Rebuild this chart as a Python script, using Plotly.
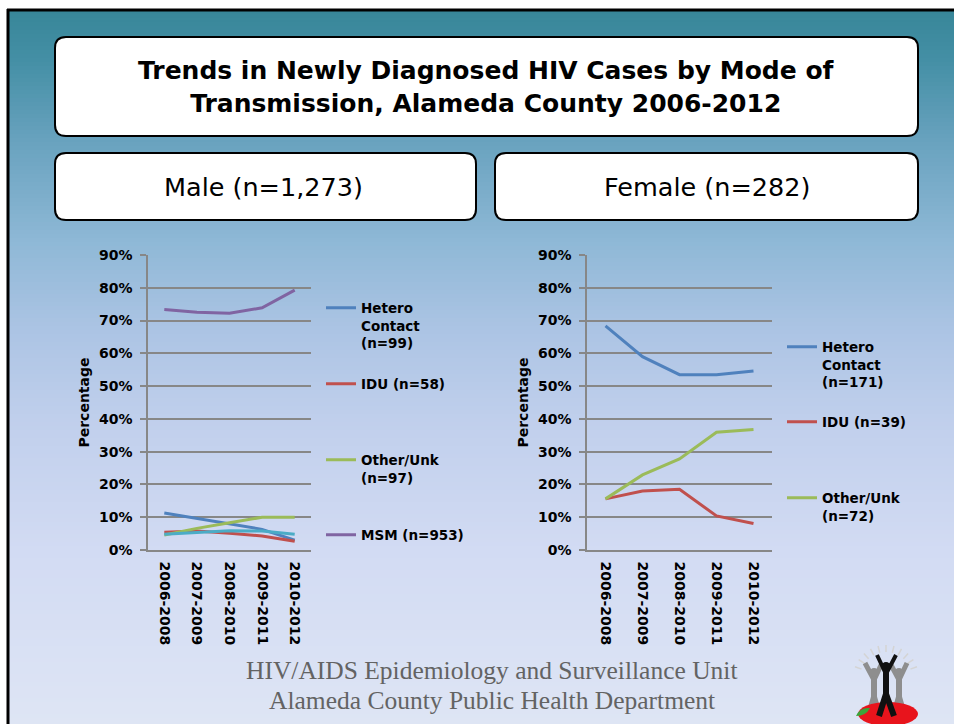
import numpy as np
import plotly.graph_objects as go

W, H = 954, 724

# ---- data -------------------------------------------------------------
periods = ["2006-2008", "2007-2009", "2008-2010", "2009-2011", "2010-2012"]

male_hetero = [11.3, 9.6, 7.8, 6.3, 3.0]
male_idu = [5.4, 5.8, 5.1, 4.3, 2.7]
male_other = [4.6, 6.6, 8.3, 10.0, 10.0]
male_msm = [73.4, 72.5, 72.2, 73.9, 79.3]
male_series5 = [4.8, 5.4, 5.9, 5.8, 4.8]

female_hetero = [68.4, 59.0, 53.5, 53.5, 54.6]
female_idu = [15.6, 18.0, 18.5, 10.4, 8.1]
female_other = [15.6, 22.9, 27.8, 35.9, 36.8]

male_labels = ["Hetero<br>Contact<br>(n=99)", "IDU (n=58)", "Other/Unk<br>(n=97)", "MSM (n=953)"]
female_labels = ["Hetero<br>Contact<br>(n=171)", "IDU (n=39)", "Other/Unk<br>(n=72)"]

y_tick_vals = [0, 10, 20, 30, 40, 50, 60, 70, 80, 90]
y_tick_text = [f"{v}%" for v in y_tick_vals]

title_text = "Trends in Newly Diagnosed HIV Cases by Mode of<br>Transmission, Alameda County 2006-2012"
male_header = "Male (n=1,273)"
female_header = "Female (n=282)"
footer_lines = ["HIV/AIDS Epidemiology and Surveillance Unit",
                "Alameda County Public Health Department"]

# ---- styling ------------------------------------------------------------
BLUE, RED, GREEN, PURPLE, CYAN = "#4F81BD", "#C0504D", "#9BBB59", "#8064A2", "#4BACC6"
GRID = "#878787"
SANS = "DejaVu Sans"


def px(x):
    return x / W


def py(y):
    return 1 - y / H


fig = go.Figure()

male_series = [(male_hetero, BLUE), (male_idu, RED), (male_other, GREEN), (male_msm, PURPLE)]
female_series = [(female_hetero, BLUE), (female_idu, RED), (female_other, GREEN)]

legend_ids = []
for i, ((vals, col), lab) in enumerate(zip(male_series, male_labels)):
    lid = "legend" if i == 0 else f"legend{i + 1}"
    legend_ids.append(lid)
    fig.add_trace(go.Scatter(x=periods, y=vals, mode="lines", name=lab,
                             line=dict(color=col, width=3),
                             xaxis="x", yaxis="y", legend=lid))
fig.add_trace(go.Scatter(x=periods, y=male_series5, mode="lines", name="Series 5",
                         line=dict(color=CYAN, width=3), showlegend=False,
                         xaxis="x", yaxis="y"))
for i, ((vals, col), lab) in enumerate(zip(female_series, female_labels)):
    lid = f"legend{i + 5}"
    legend_ids.append(lid)
    fig.add_trace(go.Scatter(x=periods, y=vals, mode="lines", name=lab,
                             line=dict(color=col, width=3),
                             xaxis="x2", yaxis="y2", legend=lid))

# ---- axes -------------------------------------------------------------
tick_font = dict(family=SANS, size=14, color="#000", weight="bold")
y_dom = [py(550), py(255)]


def xaxis(dom, anchor):
    return dict(domain=dom, anchor=anchor, range=[-0.5, 4.5], type="category",
                tickangle=90, tickfont=tick_font, showline=True, linecolor=GRID,
                linewidth=1.5, showgrid=False, ticks="", ticklabelstandoff=7,
                fixedrange=True)


def yaxis(anchor):
    return dict(domain=y_dom, anchor=anchor, range=[0, 90], tickvals=y_tick_vals,
                ticktext=y_tick_text, tickfont=tick_font, showgrid=True,
                gridcolor=GRID, gridwidth=1.5, showline=True, linecolor=GRID,
                linewidth=1.5, ticks="outside", ticklen=6, tickcolor=GRID,
                tickwidth=1.5, ticklabelstandoff=5, zeroline=False,
                title=dict(text="Percentage", font=tick_font, standoff=6),
                fixedrange=True)


# ---- legends (one per series so each entry sits at its own slot) ------
legend_font = dict(family=SANS, size=13.5, color="#000", weight="bold")
male_legend_y = [292.5, 368.5, 444.5, 519.5]
female_legend_y = [331.5, 406.5, 482.5]
legend_layout = {}
for lid, ytop in zip(legend_ids[:4], male_legend_y):
    legend_layout[lid] = dict(x=px(321), y=py(ytop), xanchor="left", yanchor="top",
                              bgcolor="rgba(0,0,0,0)", font=legend_font, valign="top",
                              itemwidth=30)
for lid, ytop in zip(legend_ids[4:], female_legend_y):
    legend_layout[lid] = dict(x=px(782), y=py(ytop), xanchor="left", yanchor="top",
                              bgcolor="rgba(0,0,0,0)", font=legend_font, valign="top",
                              itemwidth=30)

# ---- background, frame and boxes ----------------------------------------
shapes = []
stops_y = [10, 60, 140, 240, 330, 420, 550, 724]
stops_rgb = np.array([(56, 134, 153), (68, 143, 165), (104, 162, 190), (142, 184, 214),
                      (172, 196, 228), (192, 207, 236), (210, 219, 243), (222, 229, 244)], float)
step = 4
for y0 in range(10, H, step):
    yc = y0 + step / 2
    rgb = [int(round(np.interp(yc, stops_y, stops_rgb[:, k]))) for k in range(3)]
    shapes.append(dict(type="rect", xref="paper", yref="paper", layer="below",
                       x0=px(9), x1=1, y0=py(min(y0 + step + 0.5, H)), y1=py(y0),
                       fillcolor=f"rgb({rgb[0]},{rgb[1]},{rgb[2]})", line=dict(width=0)))
# dark frame along the top and left
shapes.append(dict(type="line", xref="paper", yref="paper", layer="below",
                   x0=px(7), x1=1, y0=py(10), y1=py(10), line=dict(color="#000", width=3)))
shapes.append(dict(type="line", xref="paper", yref="paper", layer="below",
                   x0=px(8), x1=px(8), y0=py(9), y1=0, line=dict(color="#000", width=3)))


def rounded_box(x0, y0, x1, y1, r=11):
    p = (f"M{px(x0 + r)},{py(y0)} L{px(x1 - r)},{py(y0)} "
         f"Q{px(x1)},{py(y0)} {px(x1)},{py(y0 + r)} L{px(x1)},{py(y1 - r)} "
         f"Q{px(x1)},{py(y1)} {px(x1 - r)},{py(y1)} L{px(x0 + r)},{py(y1)} "
         f"Q{px(x0)},{py(y1)} {px(x0)},{py(y1 - r)} L{px(x0)},{py(y0 + r)} "
         f"Q{px(x0)},{py(y0)} {px(x0 + r)},{py(y0)} Z")
    return dict(type="path", xref="paper", yref="paper", layer="below", path=p,
                fillcolor="#fff", line=dict(color="#000", width=2))


shapes.append(rounded_box(55, 37, 918, 136))
shapes.append(rounded_box(55, 153, 476, 220))
shapes.append(rounded_box(495, 153, 918, 220))

# ---- emblem beside the footer -----------------------------------------
def pline(pts):
    return "M" + " L".join(f"{px(a)},{py(b)}" for a, b in pts)


for ang in np.linspace(200, 340, 11):
    a = np.deg2rad(ang)
    cx, cy = 886, 678
    shapes.append(dict(type="path", xref="paper", yref="paper",
                       path=pline([(cx + 26 * np.cos(a), cy + 26 * np.sin(a)),
                                   (cx + 33 * np.cos(a), cy + 33 * np.sin(a))]),
                       line=dict(color="#d4d4d4", width=1.5)))
for cx in (874, 899):
    col = "#8e8e8e"
    shapes.append(dict(type="path", xref="paper", yref="paper",
                       path=pline([(cx - 9, 663), (cx, 680), (cx + 8, 663)]),
                       line=dict(color=col, width=5)))
    shapes.append(dict(type="path", xref="paper", yref="paper",
                       path=pline([(cx, 678), (cx, 697), (cx - 5, 714)]),
                       line=dict(color=col, width=6)))
    shapes.append(dict(type="path", xref="paper", yref="paper",
                       path=pline([(cx, 697), (cx + 5, 714)]),
                       line=dict(color=col, width=6)))
    shapes.append(dict(type="circle", xref="paper", yref="paper",
                       x0=px(cx - 4.5), x1=px(cx + 4.5), y0=py(677), y1=py(668),
                       fillcolor=col, line=dict(width=0)))
shapes.append(dict(type="circle", xref="paper", yref="paper",
                   x0=px(858), x1=px(918), y0=py(726), y1=py(702),
                   fillcolor="#e8141c", line=dict(width=0)))
shapes.append(dict(type="path", xref="paper", yref="paper",
                   path=pline([(877, 655), (886, 674), (896, 655)]),
                   line=dict(color="#111", width=4)))
shapes.append(dict(type="path", xref="paper", yref="paper",
                   path=pline([(886, 672), (886, 694), (879, 716)]),
                   line=dict(color="#111", width=6)))
shapes.append(dict(type="path", xref="paper", yref="paper",
                   path=pline([(886, 694), (894, 716)]),
                   line=dict(color="#111", width=6)))
shapes.append(dict(type="circle", xref="paper", yref="paper",
                   x0=px(881.5), x1=px(890.5), y0=py(671), y1=py(662),
                   fillcolor="#111", line=dict(width=0)))
shapes.append(dict(type="path", xref="paper", yref="paper",
                   path=f"M{px(856)},{py(716)} Q{px(860)},{py(707)} {px(870)},{py(708)} "
                        f"Q{px(866)},{py(716)} {px(856)},{py(716)} Z",
                   fillcolor="#3aa53a", line=dict(width=0)))

# ---- text -------------------------------------------------------------
annotations = [
    dict(text=f"<b>{title_text}</b>", x=px(486.5), y=py(87), xref="paper", yref="paper",
         showarrow=False, font=dict(family=SANS, size=25, color="#000"),
         xanchor="center", yanchor="middle", align="center"),
    dict(text=male_header, x=px(263), y=py(187), xref="paper", yref="paper",
         showarrow=False, font=dict(family=SANS, size=25.5, color="#000"),
         xanchor="center", yanchor="middle"),
    dict(text=female_header, x=px(706.5), y=py(187), xref="paper", yref="paper",
         showarrow=False, font=dict(family=SANS, size=25.5, color="#000"),
         xanchor="center", yanchor="middle"),
    dict(text=footer_lines[0], x=px(492), y=py(670), xref="paper", yref="paper",
         showarrow=False, font=dict(family="Liberation Serif", size=25.5, color="#636363"),
         xanchor="center", yanchor="middle"),
    dict(text=footer_lines[1], x=px(492), y=py(700), xref="paper", yref="paper",
         showarrow=False, font=dict(family="Liberation Serif", size=25.5, color="#636363"),
         xanchor="center", yanchor="middle"),
]

fig.update_layout(
    width=W, height=H, margin=dict(l=0, r=0, t=0, b=0, autoexpand=False),
    paper_bgcolor="#ffffff", plot_bgcolor="rgba(0,0,0,0)",
    xaxis=xaxis([px(148), px(311)], "y"),
    yaxis=yaxis("x"),
    xaxis2=xaxis([px(587), px(772)], "y2"),
    yaxis2=yaxis("x2"),
    shapes=shapes, annotations=annotations,
    font=dict(family=SANS),
    **legend_layout,
)

fig.write_html("out.html")
